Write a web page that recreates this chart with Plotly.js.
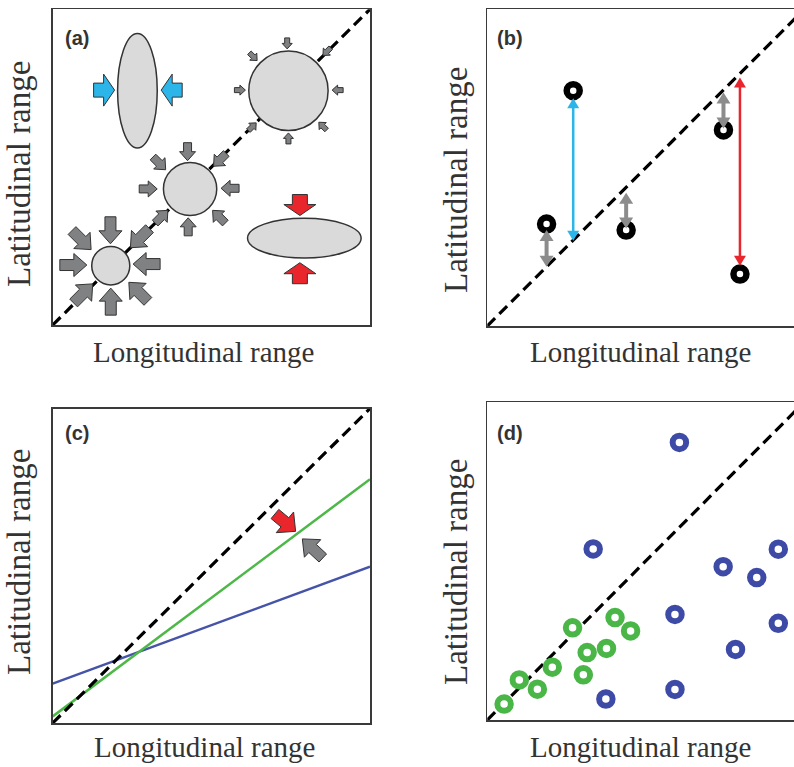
<!DOCTYPE html>
<html><head><meta charset="utf-8">
<script src="https://cdn.plot.ly/plotly-3.0.1.min.js"></script>
<style>html,body{margin:0;padding:0;background:#fff;overflow:hidden}</style>
</head><body><div id="chart" style="width:794px;height:767px"></div>
<script>
// ---------------- data ----------------
// shared 1:1 reference line
const diagX = [0, 1];
const diagY = [0, 1];

// Panel (a): range bodies (centre, semi-axes)
const aBodyX  = [0.267, 0.183, 0.433, 0.743, 0.793];
const aBodyY  = [0.742, 0.188, 0.431, 0.742, 0.275];
const aBodyRX = [0.0625, 0.060, 0.084, 0.125, 0.179];
const aBodyRY = [0.181, 0.061, 0.084, 0.126, 0.063];

// Panel (a): pressure arrows (centre, pointing direction in degrees, kind)
const aArrowX = [0.162, 0.375, 0.779, 0.779,
  0.182, 0.275, 0.296, 0.270, 0.183, 0.096, 0.065, 0.091,
  0.425, 0.527, 0.559, 0.524, 0.427, 0.343, 0.301, 0.336,
  0.739, 0.864, 0.898, 0.851, 0.743, 0.629, 0.590, 0.632];
const aArrowY = [0.744, 0.744, 0.380, 0.164,
  0.300, 0.275, 0.193, 0.105, 0.074, 0.100, 0.190, 0.269,
  0.549, 0.523, 0.433, 0.343, 0.311, 0.343, 0.431, 0.512,
  0.892, 0.866, 0.744, 0.630, 0.591, 0.628, 0.744, 0.850];
const aArrowDir = [0, 180, -90, 90,
  -90, -135, 180, 135, 90, 45, 0, -45,
  -90, -135, 180, 135, 90, 45, 0, -45,
  -90, -135, 180, 135, 90, 45, 0, -45];
const aArrowKind = ['blue', 'blue', 'red', 'red',
  'grayL', 'grayL', 'grayL', 'grayL', 'grayL', 'grayL', 'grayL', 'grayL',
  'grayM', 'grayM', 'grayM', 'grayM', 'grayM', 'grayM', 'grayM', 'grayM',
  'grayS', 'grayS', 'grayS', 'grayS', 'grayS', 'grayS', 'grayS', 'grayS'];

// Panel (b): species points and deviation arrows
const bPtX = [0.271, 0.187, 0.438, 0.745, 0.797];
const bPtY = [0.743, 0.322, 0.303, 0.619, 0.164];
const bArrX   = [0.271, 0.187, 0.438, 0.745, 0.797];
const bArrTop = [0.719, 0.303, 0.421, 0.737, 0.785];
const bArrBot = [0.269, 0.187, 0.308, 0.624, 0.190];
const bArrKind = ['blue', 'gray', 'gray', 'gray', 'red'];

// Panel (c): fitted lines and arrows
const cLineX  = [0, 1];
const cGreenY = [0.021, 0.775];
const cBlueY  = [0.125, 0.497];
const cArrowX = [0.733, 0.819];
const cArrowY = [0.637, 0.555];
const cArrowDir = [-40, 137];
const cArrowKind = ['redC', 'grayC'];

// Panel (d): two groups of species
const dBlueX = [0.606, 0.334, 0.744, 0.918, 0.850, 0.592, 0.918, 0.783, 0.592, 0.374];
const dBlueY = [0.873, 0.538, 0.482, 0.537, 0.448, 0.332, 0.304, 0.222, 0.096, 0.066];
const dGreenX = [0.053, 0.101, 0.158, 0.205, 0.269, 0.303, 0.315, 0.376, 0.403, 0.452];
const dGreenY = [0.050, 0.126, 0.097, 0.166, 0.290, 0.142, 0.212, 0.225, 0.322, 0.280];

const panelLabels = ['(a)', '(b)', '(c)', '(d)'];
const xTitle = 'Longitudinal range';
const yTitle = 'Latitudinal range';

// ---------------- layout geometry (pixels) ----------------
const W = 794, H = 767;
const FR = {
  a: {l: 52.7, r: 370, t: 9.3, b: 325, xmax: 1},
  b: {l: 487.3, r: 794, t: 9.3, b: 326, xmax: (794 - 487.3) / 317},
  c: {l: 52.7, r: 370, t: 408.5, b: 723, xmax: 1},
  d: {l: 487.3, r: 794, t: 402, b: 720, xmax: (794 - 487.3) / 317}
};
function ppu(p) { const f = FR[p]; return [(f.r - f.l) / f.xmax, (f.b - f.t)]; }
const px = v => v / W, py = v => 1 - v / H;

const INK = '#333333';
const ARROW_STYLE = {
  blue:  {fill: '#2bb5e8', L: 21, hl: 11, hw: 32, sw: 14},
  red:   {fill: '#e8262c', L: 21, hl: 11, hw: 32, sw: 15},
  grayL: {fill: '#7f8183', L: 27, hl: 13, hw: 23, sw: 11},
  grayM: {fill: '#7f8183', L: 18, hl: 9, hw: 16, sw: 8},
  grayS: {fill: '#7f8183', L: 11, hl: 5.5, hw: 10, sw: 5},
  redC:  {fill: '#e8262c', L: 27, hl: 14, hw: 27, sw: 12},
  grayC: {fill: '#7f8183', L: 28, hl: 14, hw: 24, sw: 11}
};

function polyPath(p, cx, cy, ang, pts) {
  const [kx, ky] = ppu(p);
  const a = ang * Math.PI / 180, c = Math.cos(a), s = Math.sin(a);
  return 'M' + pts.map(([x, y]) =>
    (cx + (x * c - y * s) / kx).toFixed(5) + ',' + (cy + (x * s + y * c) / ky).toFixed(5)
  ).join('L') + 'Z';
}
function blockArrow(st) {
  const {L, hl, hw, sw} = st;
  return [[-L / 2, -sw / 2], [L / 2 - hl, -sw / 2], [L / 2 - hl, -hw / 2], [L / 2, 0],
          [L / 2 - hl, hw / 2], [L / 2 - hl, sw / 2], [-L / 2, sw / 2]];
}

const shapes = [];
// (a) bodies
aBodyX.forEach((cx, i) => {
  shapes.push({type: 'circle', xref: 'x', yref: 'y',
    x0: cx - aBodyRX[i], x1: cx + aBodyRX[i], y0: aBodyY[i] - aBodyRY[i], y1: aBodyY[i] + aBodyRY[i],
    fillcolor: '#dadada', line: {color: INK, width: 1.5}});
});
// (a) arrows
aArrowX.forEach((cx, i) => {
  const st = ARROW_STYLE[aArrowKind[i]];
  shapes.push({type: 'path', xref: 'x', yref: 'y',
    path: polyPath('a', cx, aArrowY[i], aArrowDir[i], blockArrow(st)),
    fillcolor: st.fill, line: {color: INK, width: 1}});
});
// (b) double-headed arrows
const B_STYLE = {
  blue: {color: '#2bb5e8', w: 2.5, hw: 12, hl: 10},
  red:  {color: '#e8262c', w: 2.5, hw: 12, hl: 10},
  gray: {color: '#8c8c8c', w: 4, hw: 14, hl: 11}
};
bArrX.forEach((x, i) => {
  const st = B_STYLE[bArrKind[i]];
  const [kx, ky] = ppu('b');
  const top = bArrTop[i], bot = bArrBot[i];
  shapes.push({type: 'line', xref: 'x2', yref: 'y2', x0: x, x1: x,
    y0: bot + st.hl * 0.8 / ky, y1: top - st.hl * 0.8 / ky,
    line: {color: st.color, width: st.w}});
  const head = [[0, 0], [-st.hl, -st.hw / 2], [-st.hl, st.hw / 2]];
  shapes.push({type: 'path', xref: 'x2', yref: 'y2', path: polyPath('b', x, top, 90, head),
    fillcolor: st.color, line: {width: 0}});
  shapes.push({type: 'path', xref: 'x2', yref: 'y2', path: polyPath('b', x, bot, -90, head),
    fillcolor: st.color, line: {width: 0}});
});
// (c) arrows
cArrowX.forEach((cx, i) => {
  const st = ARROW_STYLE[cArrowKind[i]];
  shapes.push({type: 'path', xref: 'x3', yref: 'y3',
    path: polyPath('c', cx, cArrowY[i], cArrowDir[i], blockArrow(st)),
    fillcolor: st.fill, line: {color: INK, width: 1}});
});

// ---------------- traces ----------------
const dashLine = (xa, ya) => ({x: diagX, y: diagY, xaxis: xa, yaxis: ya, mode: 'lines',
  line: {color: '#000', width: 3.2, dash: '11px,6px'}, hoverinfo: 'skip', showlegend: false});
const ring = (x, y, xa, ya, color, size, lw) => ({x, y, xaxis: xa, yaxis: ya, mode: 'markers',
  marker: {symbol: 'circle', size, color: '#fff', line: {color, width: lw}},
  hoverinfo: 'skip', showlegend: false});

const traces = [
  dashLine('x', 'y'),
  dashLine('x2', 'y2'),
  ring(bPtX, bPtY, 'x2', 'y2', '#000', 13, 6.5),
  {x: cLineX, y: cBlueY, xaxis: 'x3', yaxis: 'y3', mode: 'lines', line: {color: '#4553a8', width: 2.5}, showlegend: false, hoverinfo: 'skip'},
  {x: cLineX, y: cGreenY, xaxis: 'x3', yaxis: 'y3', mode: 'lines', line: {color: '#4db848', width: 2.5}, showlegend: false, hoverinfo: 'skip'},
  dashLine('x3', 'y3'),
  dashLine('x4', 'y4'),
  ring(dBlueX, dBlueY, 'x4', 'y4', '#3d4aa6', 13.5, 6),
  ring(dGreenX, dGreenY, 'x4', 'y4', '#4ab648', 13.5, 6)
];

// ---------------- axes ----------------
const layout = {
  width: W, height: H, margin: {l: 0, r: 0, t: 0, b: 0},
  paper_bgcolor: '#fff', plot_bgcolor: '#fff', showlegend: false,
  shapes, annotations: []
};
['a', 'b', 'c', 'd'].forEach((p, i) => {
  const f = FR[p];
  const n = i === 0 ? '' : String(i + 1);
  const open = (p === 'b' || p === 'd');
  layout['xaxis' + n] = {domain: [px(f.l), px(f.r)], range: [0, f.xmax], anchor: 'y' + n,
    showgrid: false, zeroline: false, showticklabels: false, ticks: '', fixedrange: true,
    showline: true, mirror: true, linecolor: '#3a3a3a', linewidth: 1.5};
  layout['yaxis' + n] = {domain: [py(f.b), py(f.t)], range: [0, 1], anchor: 'x' + n,
    showgrid: false, zeroline: false, showticklabels: false, ticks: '', fixedrange: true,
    showline: true, mirror: !open, linecolor: '#3a3a3a', linewidth: 1.5};
});

// labels and titles
const labelPos = [[77, 38], [510, 38], [77, 433], [510, 433]];
const xTitlePos = [[203, 352], [640, 352], [204, 747], [640, 747]];
const yTitlePos = [[19, 174], [456, 180], [19, 562], [456, 572]];
panelLabels.forEach((t, i) => {
  layout.annotations.push({xref: 'paper', yref: 'paper', x: px(labelPos[i][0]), y: py(labelPos[i][1]),
    text: '<b>' + t + '</b>', showarrow: false, xanchor: 'center', yanchor: 'middle',
    font: {family: 'Liberation Sans, Arial, sans-serif', size: 20, color: '#333'}});
  layout.annotations.push({xref: 'paper', yref: 'paper', x: px(xTitlePos[i][0]), y: py(xTitlePos[i][1]),
    text: xTitle, showarrow: false, xanchor: 'center', yanchor: 'middle',
    font: {family: 'Liberation Serif, Times New Roman, serif', size: 29, color: '#333'}});
  layout.annotations.push({xref: 'paper', yref: 'paper', x: px(yTitlePos[i][0]), y: py(yTitlePos[i][1]),
    text: yTitle, textangle: -90, showarrow: false, xanchor: 'center', yanchor: 'middle',
    font: {family: 'Liberation Serif, Times New Roman, serif', size: 33, color: '#333'}});
});

Plotly.newPlot('chart', traces, layout, {displayModeBar: false, staticPlot: true});
</script></body></html>
